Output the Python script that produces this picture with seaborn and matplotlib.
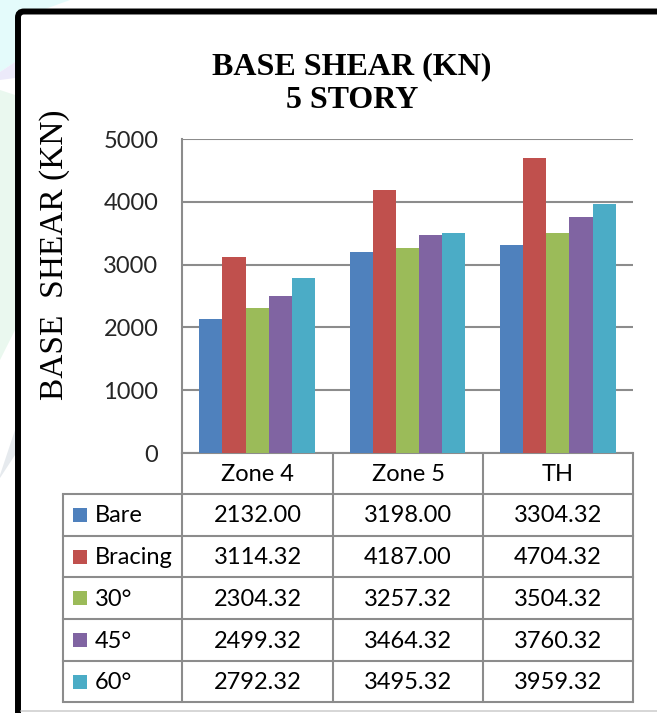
import matplotlib
matplotlib.use("Agg")
import matplotlib.pyplot as plt
from matplotlib.patches import FancyBboxPatch, Rectangle, Polygon
import seaborn as sns
import pandas as pd

# ---- data ----
zones = ["Zone 4", "Zone 5", "TH"]
series = ["Bare", "Bracing", "30°", "45°", "60°"]
bare = [2132.00, 3198.00, 3304.32]
bracing = [3114.32, 4187.00, 4704.32]
deg30 = [2304.32, 3257.32, 3504.32]
deg45 = [2499.32, 3464.32, 3760.32]
deg60 = [2792.32, 3495.32, 3959.32]
colors = ["#4F81BD", "#C0504D", "#9BBB59", "#8064A2", "#4BACC6"]
yticks = [0, 1000, 2000, 3000, 4000, 5000]

values = [bare, bracing, deg30, deg45, deg60]
df = pd.DataFrame(
    [(z, s, v[i]) for s, v in zip(series, values) for i, z in enumerate(zones)],
    columns=["zone", "series", "value"],
)

sns.set_theme(style="white")
plt.rcParams["font.family"] = ["Lato", "DejaVu Sans"]

W, H = 657, 713
fig = plt.figure(figsize=(W / 100, H / 100), dpi=100)
fig.patch.set_facecolor("white")

# pixel-space overlay for frame, table and titles
ov = fig.add_axes([0, 0, 1, 1], zorder=0)
ov.set_xlim(0, W)
ov.set_ylim(H, 0)
ov.axis("off")

# faint page watermark outside the frame
ov.add_patch(Polygon([[0, 0], [70, 0], [15, 20], [15, 62], [0, 72]], closed=True,
                     facecolor="#e4fbfb", edgecolor="none"))
ov.add_patch(Polygon([[0, 72], [15, 62], [15, 78], [0, 80]], closed=True,
                     facecolor="#eceafa", edgecolor="none"))
ov.add_patch(Polygon([[0, 90], [15, 95], [15, 330], [0, 360]], closed=True,
                     facecolor="#eaf8ef", edgecolor="none"))
ov.add_patch(Polygon([[0, 475], [15, 430], [15, 455], [0, 478]], closed=True,
                     facecolor="#e6eaee", edgecolor="none"))

# outer frame
ov.add_patch(FancyBboxPatch((18, 11.5), 700, 760, boxstyle="round,pad=0,rounding_size=6",
                            facecolor="white", edgecolor="black", linewidth=4.3))
ov.plot([21, W], [711, 711], color="#cfcfcf", lw=1.2)

# plot-area geometry (pixels)
px_l, px_r, px_t, px_b = 182, 633, 139, 453
col_edges = [182, 333, 483, 633]
row_edges = [453, 494, 536, 577, 619, 661, 702]
tab_l = 63
grid_c = "#8c8c8c"

# titles
ov.text(352, 67, "BASE SHEAR (KN)", ha="center", va="center", fontsize=23,
        fontweight="bold", family=["Liberation Serif"], color="black")
ov.text(352, 101, "5 STORY", ha="center", va="center", fontsize=23,
        fontweight="bold", family=["Liberation Serif"], color="black")
ov.text(55, 255, "BASE  SHEAR (KN)", ha="center", va="center", rotation=90,
        fontsize=24, family=["Liberation Serif"], color="black")

# data table grid
for y in row_edges:
    x0 = col_edges[0] if y == row_edges[0] else tab_l
    ov.plot([x0, col_edges[-1]], [y, y], color=grid_c, lw=1.5, solid_capstyle="projecting")
for x in col_edges:
    ov.plot([x, x], [row_edges[0], row_edges[-1]], color=grid_c, lw=1.5)
ov.plot([tab_l, tab_l], [row_edges[1], row_edges[-1]], color=grid_c, lw=1.5)

fs = 17
for j, z in enumerate(zones):
    cx = (col_edges[j] + col_edges[j + 1]) / 2
    ov.text(cx, (row_edges[0] + row_edges[1]) / 2 + 1, z, ha="center", va="center",
            fontsize=fs, color="black")
for i, (s, v, c) in enumerate(zip(series, values, colors)):
    cy = (row_edges[i + 1] + row_edges[i + 2]) / 2
    ov.add_patch(Rectangle((73, cy - 7), 14, 14, facecolor=c, edgecolor="none"))
    ov.text(95, cy + 1, s, ha="left", va="center", fontsize=fs, color="black")
    for j in range(len(zones)):
        cx = (col_edges[j] + col_edges[j + 1]) / 2
        ov.text(cx, cy + 1, f"{v[j]:.2f}", ha="center", va="center",
                fontsize=fs, color="black")

# bar chart
ax = fig.add_axes([px_l / W, 1 - px_b / H, (px_r - px_l) / W, (px_b - px_t) / H], zorder=1)
ax.set_facecolor("none")
sns.barplot(data=df, x="zone", y="value", hue="series", hue_order=series,
            palette=colors, saturation=1, width=0.77, gap=0, legend=False,
            edgecolor="none", ax=ax)
ax.set_xlim(-0.5, 2.5)
ax.set_ylim(0, 5000)
ax.set_yticks(yticks)
ax.set_yticklabels([str(t) for t in yticks], fontsize=fs)
ax.set_xticks([])
ax.set_xlabel("")
ax.set_ylabel("")
ax.yaxis.grid(True, color=grid_c, lw=1.5)
ax.set_axisbelow(True)
ax.tick_params(axis="y", length=0, pad=17)
for side in ["top", "right", "bottom"]:
    ax.spines[side].set_visible(False)
ax.spines["left"].set_color(grid_c)
ax.spines["left"].set_linewidth(1.5)

fig.savefig("out.png", dpi=100, facecolor="white")
